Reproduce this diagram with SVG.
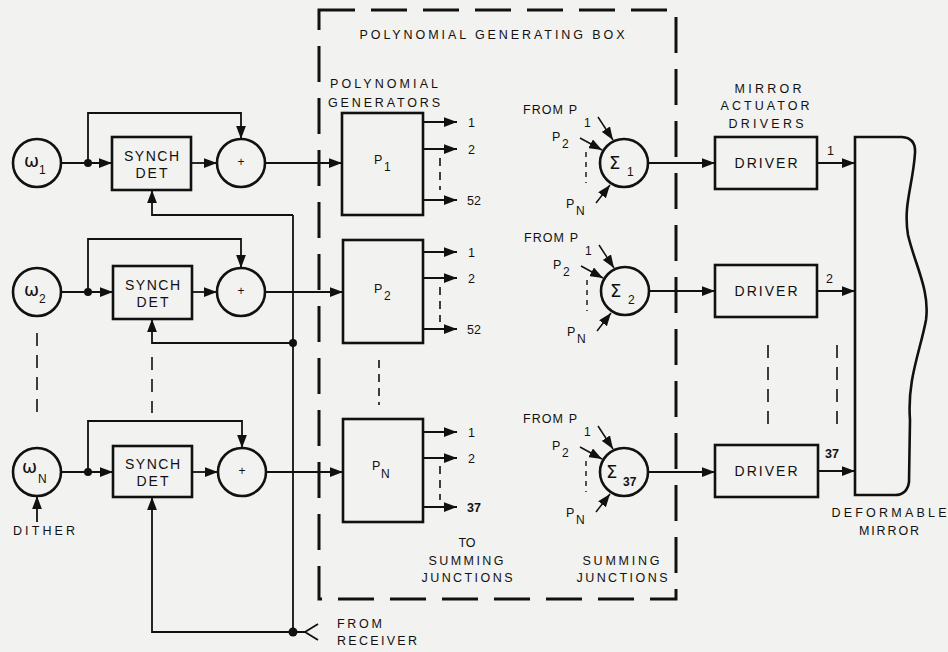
<svg xmlns="http://www.w3.org/2000/svg" width="948" height="652" viewBox="0 0 948 652">
<defs>
<marker id="ah" viewBox="0 0 12 9" refX="12" refY="4.5" markerWidth="13" markerHeight="10" markerUnits="userSpaceOnUse" orient="auto"><path d="M0,0 L12,4.5 L0,9 Z" fill="#111"/></marker>
<style>
.bx{fill:none;stroke:#111;stroke-width:2.6}
.cir{fill:none;stroke:#111;stroke-width:2.6}
.ln{fill:none;stroke:#111;stroke-width:1.8}
.ar{fill:none;stroke:#111;stroke-width:1.8;marker-end:url(#ah)}
.ar2{fill:none;stroke:#111;stroke-width:1.5;marker-end:url(#ah)}
.dsh{fill:none;stroke:#111;stroke-width:1.6;stroke-dasharray:13 9}
.dsm{fill:none;stroke:#111;stroke-width:1.6;stroke-dasharray:8 6}
.dss{fill:none;stroke:#111;stroke-width:1.4;stroke-dasharray:5 5}
.dot{fill:#111}
.t{font-family:"Liberation Sans",Arial,sans-serif;fill:#111;font-size:12.5px}
.tb{font-family:"Liberation Sans",Arial,sans-serif;fill:#111;font-size:14px}
.sym{font-family:"DejaVu Sans","Liberation Sans",sans-serif;fill:#111;font-size:18px}
.sub{font-family:"Liberation Sans",Arial,sans-serif;fill:#111;font-size:12px}
.m{text-anchor:middle}
</style>
</defs>
<rect width="948" height="652" fill="#f2f2f0"/>

<!-- Polynomial generating box (dashed) -->
<g id="poly-box">
<rect x="319" y="10" width="357" height="589" fill="none" stroke="#111" stroke-width="3" stroke-dasharray="36 16"/>
<text class="t m" x="492" y="39" textLength="265" lengthAdjust="spacing">POLYNOMIAL GENERATING BOX</text>
<text class="t m" x="384" y="88" textLength="108" lengthAdjust="spacing">POLYNOMIAL</text>
<text class="t m" x="384" y="107" textLength="112" lengthAdjust="spacing">GENERATORS</text>
<text class="t m" x="467" y="547">TO</text>
<text class="t m" x="466" y="565" textLength="75" lengthAdjust="spacing">SUMMING</text>
<text class="t m" x="467" y="582" textLength="91" lengthAdjust="spacing">JUNCTIONS</text>
<text class="t m" x="621" y="565" textLength="77" lengthAdjust="spacing">SUMMING</text>
<text class="t m" x="622" y="582" textLength="91" lengthAdjust="spacing">JUNCTIONS</text>
</g>

<!-- Oscillators -->
<g id="omega1"><circle class="cir" cx="37" cy="163" r="24"/><text class="sym" x="24" y="167">ω</text><text class="sub" x="39" y="174">1</text></g>
<g id="omega2"><circle class="cir" cx="37" cy="292" r="24"/><text class="sym" x="24" y="296">ω</text><text class="sub" x="39" y="303">2</text></g>
<g id="omegaN"><circle class="cir" cx="37" cy="472" r="24"/><text class="sym" x="22" y="473">ω</text><text class="sub" x="38" y="483">N</text></g>
<g id="dither"><text class="t" x="13" y="535" textLength="62" lengthAdjust="spacing">DITHER</text></g>

<!-- Synch detectors -->
<g id="synch1"><rect class="bx" x="112" y="137" width="79" height="53"/><text class="tb m" x="151.5" y="161" textLength="55" lengthAdjust="spacing">SYNCH</text><text class="tb m" x="151.5" y="178" textLength="32" lengthAdjust="spacing">DET</text></g>
<g id="synch2"><rect class="bx" x="113" y="266" width="79" height="53"/><text class="tb m" x="152.5" y="290" textLength="55" lengthAdjust="spacing">SYNCH</text><text class="tb m" x="152.5" y="307" textLength="32" lengthAdjust="spacing">DET</text></g>
<g id="synchN"><rect class="bx" x="113" y="446" width="79" height="51"/><text class="tb m" x="152.5" y="469" textLength="55" lengthAdjust="spacing">SYNCH</text><text class="tb m" x="152.5" y="486" textLength="32" lengthAdjust="spacing">DET</text></g>

<!-- Summers -->
<g id="sum1"><circle class="cir" cx="241" cy="163" r="24"/><text class="sub m" x="241" y="166" font-size="7">+</text></g>
<g id="sum2"><circle class="cir" cx="241" cy="292" r="24"/><text class="sub m" x="241" y="295" font-size="7">+</text></g>
<g id="sumN"><circle class="cir" cx="242" cy="472" r="24"/><text class="sub m" x="242" y="475" font-size="7">+</text></g>

<!-- Polynomial generators -->
<g id="P1"><rect class="bx" x="342" y="113" width="81" height="102"/><text class="t" x="374" y="164">P</text><text class="sub" x="384" y="171">1</text></g>
<g id="P2"><rect class="bx" x="343" y="240" width="80" height="103"/><text class="t" x="374" y="293">P</text><text class="sub" x="384" y="300">2</text></g>
<g id="PN"><rect class="bx" x="343" y="419" width="80" height="103"/><text class="t" x="372" y="470">P</text><text class="sub" x="381" y="478">N</text></g>

<!-- Summing junctions -->
<g id="sigma1"><circle class="cir" cx="624" cy="163" r="24"/><text class="sym" x="609" y="169" font-size="20">Σ</text><text class="sub" x="627" y="176" font-size="14">1</text>
<text class="t" x="523" y="114" textLength="54" lengthAdjust="spacing">FROM P</text><text class="sub" x="584" y="127">1</text>
<text class="t" x="552" y="141">P</text><text class="sub" x="562" y="148">2</text>
<text class="t" x="566" y="208">P</text><text class="sub" x="576" y="215">N</text></g>
<g id="sigma2"><circle class="cir" cx="625" cy="291" r="24"/><text class="sym" x="610" y="297" font-size="20">Σ</text><text class="sub" x="628" y="304" font-size="14">2</text>
<text class="t" x="524" y="242" textLength="54" lengthAdjust="spacing">FROM P</text><text class="sub" x="585" y="255">1</text>
<text class="t" x="553" y="269">P</text><text class="sub" x="563" y="276">2</text>
<text class="t" x="567" y="336">P</text><text class="sub" x="577" y="343">N</text></g>
<g id="sigma37"><circle class="cir" cx="624" cy="472" r="24"/><text class="sym" x="606" y="478" font-size="20">Σ</text><text class="sub" x="623" y="486" font-size="14" font-weight="bold">37</text>
<text class="t" x="523" y="423" textLength="54" lengthAdjust="spacing">FROM P</text><text class="sub" x="584" y="436">1</text>
<text class="t" x="552" y="450">P</text><text class="sub" x="562" y="457">2</text>
<text class="t" x="566" y="517">P</text><text class="sub" x="576" y="524">N</text></g>

<!-- Drivers -->
<g id="drivers-label"><text class="t m" x="768" y="93" textLength="67" lengthAdjust="spacing">MIRROR</text><text class="t m" x="765" y="110" textLength="89" lengthAdjust="spacing">ACTUATOR</text><text class="t m" x="766" y="128" textLength="75" lengthAdjust="spacing">DRIVERS</text></g>
<g id="driver1"><rect class="bx" x="715" y="137" width="102" height="52"/><text class="tb m" x="766" y="168" textLength="63" lengthAdjust="spacing">DRIVER</text></g>
<g id="driver2"><rect class="bx" x="715" y="265" width="102" height="52"/><text class="tb m" x="766" y="296" textLength="63" lengthAdjust="spacing">DRIVER</text></g>
<g id="driver37"><rect class="bx" x="715" y="445" width="103" height="52"/><text class="tb m" x="766" y="476" textLength="63" lengthAdjust="spacing">DRIVER</text></g>

<!-- Deformable mirror -->
<g id="mirror">
<path class="bx" d="M855,137 L902,137 Q916,138 915,153 C913,185 903,205 908,235 C915,265 930,290 926,320 C920,352 907,380 910,420 L909,482 Q907,495 895,495 L855,495 Z"/>
<text class="t m" x="889" y="517" textLength="115" lengthAdjust="spacing">DEFORMABLE</text>
<text class="t m" x="889" y="535" textLength="60" lengthAdjust="spacing">MIRROR</text>
</g>

<g id="receiver"><text class="t" x="337" y="628" textLength="45" lengthAdjust="spacing">FROM</text><text class="t" x="337" y="645" textLength="80" lengthAdjust="spacing">RECEIVER</text></g>

<!-- Connectors -->
<g id="connectors">
<!-- row 1 -->
<path class="ar" d="M61,163 H112"/>
<circle class="dot" cx="88" cy="163" r="4"/>
<path class="ar" d="M88,163 V113 H241 V139"/>
<path class="ar" d="M191,163 H217"/>
<path class="ar" d="M265,163 H342"/>
<path class="ar" d="M293,215 H152 V190"/>
<!-- row 2 -->
<path class="ar" d="M61,292 H113"/>
<circle class="dot" cx="88" cy="292" r="4"/>
<path class="ar" d="M88,292 V239 H241 V268"/>
<path class="ar" d="M192,292 H217"/>
<path class="ar" d="M265,292 H343"/>
<path class="ar" d="M293,343 H152 V319"/>
<circle class="dot" cx="293" cy="343" r="4"/>
<!-- row N -->
<path class="ar" d="M61,472 H113"/>
<circle class="dot" cx="88" cy="472" r="4"/>
<path class="ar" d="M88,472 V421 H242 V448"/>
<path class="ar" d="M192,472 H218"/>
<path class="ar" d="M266,472 H343"/>
<path class="ar" d="M293,632 H152 V497"/>
<circle class="dot" cx="293" cy="632" r="4.5"/>
<path class="ar" d="M37,522 V496"/>
<!-- receiver bus -->
<path class="ln" d="M293,215 V632"/>
<path class="ln" d="M293,632 H305 M318,624 L305,632 L318,640"/>
<!-- row continuation dashes -->
<path class="dsh" d="M37,333 V420"/>
<path class="dsh" d="M152,357 V413"/>
<path class="dsm" d="M379,360 V405"/>
<path class="dsh" d="M768,345 V427"/>
<path class="dsh" d="M837,345 V427"/>
<!-- P outputs -->
<path class="ar" d="M423,122 H457"/><path class="ar" d="M423,149 H457"/><path class="ar" d="M423,200 H457"/>
<path class="dsm" d="M440,158 V190"/>
<path class="ar" d="M423,252 H457"/><path class="ar" d="M423,278 H457"/><path class="ar" d="M423,329 H457"/>
<path class="dsm" d="M440,287 V322"/>
<path class="ar" d="M423,432 H457"/><path class="ar" d="M423,458 H457"/><path class="ar" d="M423,507 H457"/>
<path class="dsm" d="M440,466 V500"/>
<text class="t" x="468" y="127">1</text><text class="t" x="468" y="154">2</text><text class="t" x="467" y="205">52</text>
<text class="t" x="468" y="257">1</text><text class="t" x="468" y="283">2</text><text class="t" x="467" y="334">52</text>
<text class="t" x="468" y="437">1</text><text class="t" x="468" y="463">2</text><text class="t" x="467" y="512" font-weight="bold">37</text>
<!-- sigma inputs -->
<path class="ar2" d="M598,117 L613,140"/><path class="ar2" d="M580,138 L602,150"/><path class="ar2" d="M596,203 L610,185"/>
<path class="dss" d="M586,152 V183"/>
<path class="ar2" d="M599,245 L614,268"/><path class="ar2" d="M581,266 L603,278"/><path class="ar2" d="M597,331 L611,313"/>
<path class="dss" d="M587,280 V311"/>
<path class="ar2" d="M598,426 L613,449"/><path class="ar2" d="M580,447 L602,459"/><path class="ar2" d="M596,512 L610,494"/>
<path class="dss" d="M586,461 V492"/>
<!-- sigma to drivers -->
<path class="ar" d="M648,163 H715"/>
<path class="ar" d="M649,291 H715"/>
<path class="ar" d="M648,472 H715"/>
<!-- drivers to mirror -->
<path class="ar" d="M817,163 H855"/>
<path class="ar" d="M817,291 H855"/>
<path class="ar" d="M818,471 H855"/>
<text class="t" x="827" y="155">1</text>
<text class="t" x="826" y="283">2</text>
<text class="t" x="825" y="458" font-weight="bold">37</text>
</g>
</svg>
